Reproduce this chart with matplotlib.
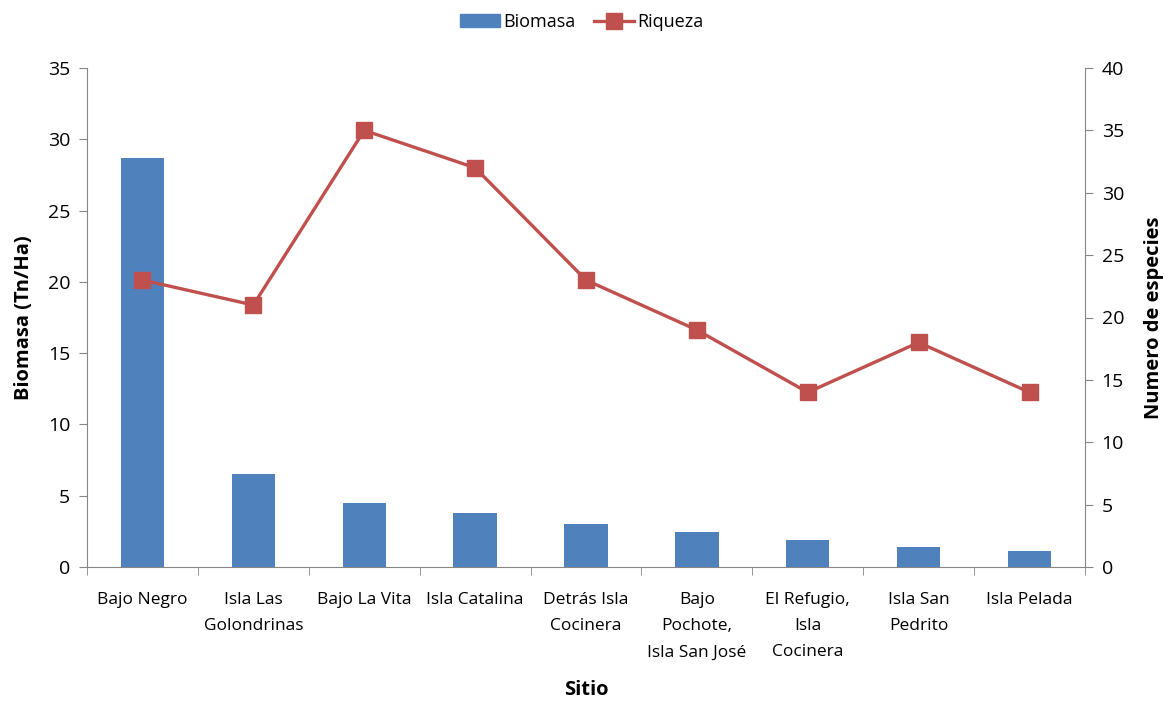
import matplotlib
matplotlib.use("Agg")
import matplotlib.pyplot as plt
from matplotlib.lines import Line2D
from matplotlib.patches import Patch
import numpy as np

sitios = ["Bajo Negro", "Isla Las\nGolondrinas", "Bajo La Vita", "Isla Catalina",
          "Detrás Isla\nCocinera", "Bajo\nPochote,\nIsla San José",
          "El Refugio,\nIsla\nCocinera", "Isla San\nPedrito", "Isla Pelada"]
biomasa = [28.7, 6.5, 4.5, 3.8, 3.05, 2.45, 1.87, 1.4, 1.1]
riqueza = [23, 21, 35, 32, 23, 19, 14, 18, 14]

plt.rcParams['font.family'] = ['Open Sans', 'DejaVu Sans']
BAR = '#4F81BD'
LINE = '#C0504D'
AX = '#868686'

fig = plt.figure(figsize=(11.64, 7.03), dpi=100)
ax = fig.add_axes([87/1164, 1-567/703, (1085-87)/1164, (567-68)/703])
x = np.arange(len(sitios))
ax.bar(x, biomasa, width=0.39, color=BAR, zorder=2)
ax.set_xlim(-0.5, len(sitios)-0.5)
ax.set_ylim(0, 35)
ax.set_yticks(np.arange(0, 36, 5))
ax.set_xticks(x)
ax.set_xticklabels(sitios, fontsize=12.5, linespacing=1.85, va='top', ha='center')
ax.set_xticks(np.arange(-0.5, len(sitios), 1), minor=True)
ax.tick_params(axis='x', which='major', length=0, pad=18)
ax.tick_params(axis='x', which='minor', length=6, color=AX, direction='out')
ax.tick_params(axis='y', length=6, color=AX, labelsize=14, pad=6)
for s in ['top', 'right']:
    ax.spines[s].set_visible(False)
for s in ['left', 'bottom']:
    ax.spines[s].set_color(AX)
ax.set_ylabel('Biomasa (Tn/Ha)', fontsize=14.5, fontweight='bold', labelpad=10)
ax.set_xlabel('Sitio', fontsize=14.5, fontweight='bold', labelpad=14)

ax2 = ax.twinx()
ax2.plot(x, riqueza, color=LINE, lw=2.4, marker='s', markersize=11, zorder=3)
ax2.set_ylim(0, 40)
ax2.set_yticks(np.arange(0, 41, 5))
ax2.tick_params(axis='y', length=6, color=AX, labelsize=14, pad=6)
for s in ['top', 'left', 'bottom']:
    ax2.spines[s].set_visible(False)
ax2.spines['right'].set_color(AX)
ax2.set_ylabel('Numero de especies', fontsize=14.5, fontweight='bold', labelpad=14)

handles = [Patch(facecolor=BAR, edgecolor=BAR),
           Line2D([0], [0], color=LINE, lw=2.4, marker='s', markersize=11)]
fig.legend(handles, ['Biomasa', 'Riqueza'], loc='center', bbox_to_anchor=(0.5, 1-22/703),
           ncol=2, frameon=False, fontsize=13, handlelength=2.2, columnspacing=1.0,
           handletextpad=0.2)

fig.savefig('out.png', dpi=100)
